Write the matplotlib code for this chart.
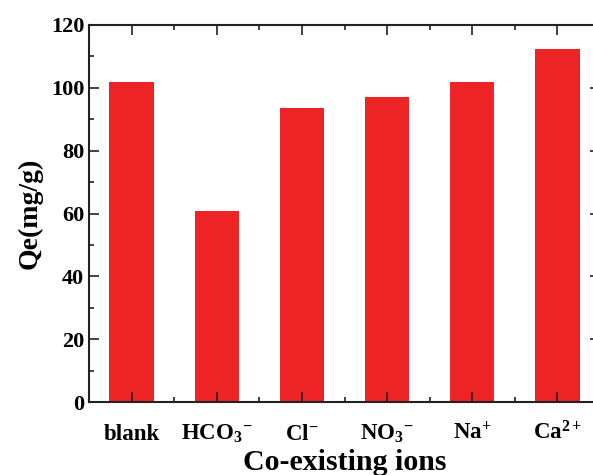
import numpy as np
import matplotlib
matplotlib.use("Agg")
import matplotlib.pyplot as plt
from matplotlib.ticker import MultipleLocator

# fonts: bold Times-like serif, also for the math sub/superscripts
plt.rcParams['font.family'] = ['Liberation Serif', 'DejaVu Serif']
plt.rcParams['font.weight'] = 'bold'
plt.rcParams['mathtext.fontset'] = 'custom'
plt.rcParams['mathtext.rm'] = 'Liberation Serif:bold'
plt.rcParams['mathtext.it'] = 'Liberation Serif:bold'
plt.rcParams['mathtext.bf'] = 'Liberation Serif:bold'

# data
ions = ['blank', r'HCO$_3$$^{-}$', r'Cl$^{-}$', r'NO$_3$$^{-}$', r'Na$^{+}$', r'Ca$^{2+}$']
qe = [101.9, 60.9, 93.6, 97.1, 101.9, 112.3]

fig = plt.figure(figsize=(5.93, 4.75), dpi=100)
# axes runs a little past the right edge, as in the original
ax = fig.add_axes([89 / 593, 73 / 475, 511 / 593, 377 / 475])

x = np.arange(1, len(ions) + 1)
ax.bar(x, qe, width=0.52, color='#ee2326')

ax.set_xlim(0.5, 6.5)
ax.set_ylim(0, 120)
ax.set_xticks(x)
ax.set_xticklabels(ions, fontsize=16.5, va='baseline')
ax.xaxis.set_minor_locator(MultipleLocator(0.5))
ax.yaxis.set_major_locator(MultipleLocator(20))
ax.yaxis.set_minor_locator(MultipleLocator(10))
ax.tick_params(axis='both', which='both', direction='in', top=True, right=True, width=1.2, color='#222222')
ax.tick_params(axis='both', which='major', length=7)
ax.tick_params(axis='both', which='minor', length=3.5)
ax.tick_params(axis='y', labelsize=16)
ax.tick_params(axis='x', pad=27)
for s in ax.spines.values():
    s.set_linewidth(1.5)
    s.set_color('#222222')

ax.set_xlabel('Co-existing ions', fontsize=21.5, fontweight='bold')
ax.xaxis.set_label_coords(0.5, -0.124)
ax.set_ylabel('Qe(mg/g)', fontsize=20, fontweight='bold', labelpad=6)

plt.savefig('out.png', dpi=100)
